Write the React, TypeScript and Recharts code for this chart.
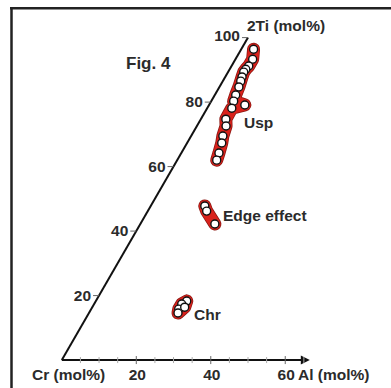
import { ReferenceDot, ReferenceLine, Scatter, ScatterChart, XAxis, YAxis } from "recharts";

// ternary compositions (mol%)
const uspTi = [96.4, 93.3, 91.2, 90.2, 89.3, 87.8, 86.5, 84.7, 82.2, 80.3, 79.1, 78.1, 74.7, 72.6, 69.5, 67.3, 64.2, 62.0];
const uspAl = [3.3, 4.6, 4.6, 4.3, 4.2, 4.5, 4.8, 5.2, 5.6, 6.0, 9.6, 6.6, 6.7, 7.8, 8.5, 9.3, 10.1, 10.6];
const edgeTi = [47.8, 46.2, 42.2];
const edgeAl = [14.5, 15.8, 20.0];
const chrTi = [18.3, 17.4, 15.8, 14.6, 16.4];
const chrAl = [24.4, 23.5, 23.5, 23.9, 24.8];

const tiTicks = [20, 40, 60, 80, 100];
const alTicks = [20, 40, 60];
const alMinor = [5, 10, 15, 25, 30, 35, 45, 50, 55, 65];

const H = Math.sqrt(3) / 2;
const FONT = "'Liberation Sans', Arial, sans-serif";
const INK = "#2b2b2b";

const project = (ti: number[], al: number[]) =>
  ti.map((t, i) => ({ x: al[i] + t / 2, y: t * H }));

const usp = project(uspTi, uspAl);
const edge = project(edgeTi, edgeAl);
const chr = project(chrTi, chrAl);
const chrLoop = [...chr, chr[0]];

const dot = (p: any) => (
  <circle cx={p.cx} cy={p.cy} r={4} fill="#fff" stroke="#111" strokeWidth={1.4} />
);
const none = () => <g />;

const bandDark = { stroke: "#8a1712", strokeWidth: 13, strokeLinejoin: "round", strokeLinecap: "round" } as any;
const bandRed = { stroke: "#d9221c", strokeWidth: 11.5, strokeLinejoin: "round", strokeLinecap: "round" } as any;

const txt = { fontFamily: FONT, fontWeight: 700, fill: INK, fontSize: 15.5 } as const;

export default function App() {
  return (
    <div style={{ position: "absolute", left: 0, top: 0, width: 391, height: 388, background: "#fff" }}>
      <ScatterChart width={391} height={388} margin={{ top: 0, right: 0, bottom: 0, left: 0 }}>
        <XAxis type="number" dataKey="x" domain={[-16.6, 88.4]} hide allowDataOverflow />
        <YAxis type="number" dataKey="y" domain={[-7.5, 96.7]} hide allowDataOverflow />

        {/* axes */}
        <ReferenceLine segment={[{ x: 0, y: 0 }, { x: 64.5, y: 0 }]} stroke="#111" strokeWidth={2} />
        <ReferenceLine segment={[{ x: 0, y: 0 }, { x: 50, y: 100 * H }]} stroke="#111" strokeWidth={2} />
        <ReferenceDot
          x={66.6}
          y={0}
          r={0}
          shape={(p: any) => (
            <polygon points={`${p.cx},${p.cy} ${p.cx - 9},${p.cy - 4.5} ${p.cx - 9},${p.cy + 4.5}`} fill="#111" />
          )}
        />
        {alMinor.map((v) => (
          <ReferenceDot
            key={"m" + v}
            x={v}
            y={0}
            r={0}
            shape={(p: any) => <line x1={p.cx} y1={p.cy - 3} x2={p.cx} y2={p.cy + 3} stroke="#aaa" strokeWidth={1} />}
          />
        ))}
        {alTicks.map((v) => (
          <ReferenceDot
            key={"a" + v}
            x={v}
            y={0}
            r={0}
            shape={(p: any) => (
              <g>
                <line x1={p.cx} y1={p.cy - 4} x2={p.cx} y2={p.cy + 4} stroke="#666" strokeWidth={1} />
                <text x={p.cx + 1} y={p.cy + 20} textAnchor="middle" {...txt}>
                  {v}
                </text>
              </g>
            )}
          />
        ))}
        {tiTicks.map((t) => (
          <ReferenceDot
            key={"t" + t}
            x={t / 2}
            y={t * H}
            r={0}
            shape={(p: any) => (
              <g>
                <line x1={p.cx - 6} y1={p.cy} x2={p.cx} y2={p.cy} stroke="#666" strokeWidth={1} />
                <text x={p.cx - 8} y={p.cy + (t === 100 ? 3 : 5)} textAnchor="end" {...txt}>
                  {t}
                </text>
              </g>
            )}
          />
        ))}

        {/* red fields behind the analyses */}
        <Scatter data={usp} line={bandDark} shape={none} isAnimationActive={false} />
        <Scatter data={usp} line={bandRed} shape={none} isAnimationActive={false} />
        <Scatter data={edge} line={bandDark} shape={none} isAnimationActive={false} />
        <Scatter data={edge} line={bandRed} shape={none} isAnimationActive={false} />
        <Scatter data={chrLoop} line={bandDark} shape={none} isAnimationActive={false} />
        <Scatter data={chrLoop} line={bandRed} shape={none} isAnimationActive={false} />

        <Scatter data={usp} shape={dot} isAnimationActive={false} />
        <Scatter data={edge} shape={dot} isAnimationActive={false} />
        <Scatter data={chr} shape={dot} isAnimationActive={false} />
      </ScatterChart>

      <svg width={391} height={388} style={{ position: "absolute", left: 0, top: 0, pointerEvents: "none" }}>
        <line x1={11.5} y1={7} x2={11.5} y2={388} stroke="#222" strokeWidth={2.5} />
        <line x1={10} y1={8.2} x2={391} y2={8.2} stroke="#222" strokeWidth={2.5} />
        <text x={126} y={69} {...txt} fontSize={17}>Fig. 4</text>
        <text x={247} y={31} {...txt}>2Ti (mol%)</text>
        <text x={244} y={128} {...txt}>Usp</text>
        <text x={223} y={221} {...txt}>Edge effect</text>
        <text x={194} y={319.5} {...txt}>Chr</text>
        <text x={32} y={380} {...txt}>Cr (mol%)</text>
        <text x={298} y={380} {...txt}>Al (mol%)</text>
      </svg>
    </div>
  );
}
